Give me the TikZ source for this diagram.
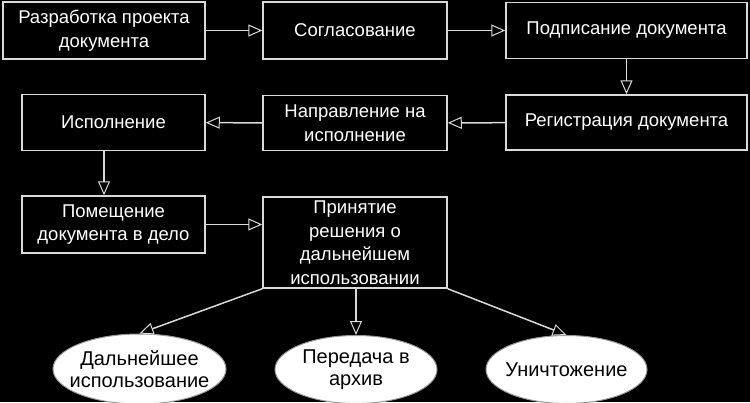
\documentclass[tikz,border=0pt]{standalone}
\usepackage{fontspec}
\setmainfont{Liberation Sans}
\usetikzlibrary{arrows.meta,shapes.geometric}

\begin{document}
\begin{tikzpicture}[x=1pt,y=-1pt,
  stage/.style={draw=black!15,line width=1.5pt,text=white,align=center,
    inner sep=0pt,font=\fontsize{18.5}{23.5}\selectfont},
  outcome/.style={ellipse,draw=black!40,fill=white,line width=1pt,text=black,
    align=center,inner xsep=-9pt,inner ysep=0pt,font=\fontsize{20}{21.5}\selectfont},
  flow/.style={draw=black!15,line width=1.5pt,
    -{Triangle[open,length=14pt,width=12pt,line width=1pt]}}]
\fill[black] (0,0) rectangle (750,402);
\useasboundingbox (0,0) rectangle (750,402);
\node[stage,minimum width=202,minimum height=57] (proj) at (104,30.5) {Разработка проекта\\документа};
\node[stage,minimum width=184,minimum height=57] (agree) at (355,30.5) {Согласование};
\draw[flow] (proj) -- (agree);
\node[stage,minimum width=241,minimum height=56] (sign) at (626.5,30.5) {Подписание документа};
\draw[flow] (agree) -- (sign);
\node[stage,minimum width=241,minimum height=55] (reg) at (626.5,122.5) {Регистрация документа};
\draw[flow] (sign) -- (reg);
\node[stage,minimum width=184,minimum height=55] (send) at (355,123) {Направление на\\исполнение};
\draw[flow] (reg) -- (send);
\node[stage,minimum width=183,minimum height=56] (exec) at (113.5,122.5) {Исполнение};
\draw[flow] (send) -- (exec);
\node[stage,minimum width=183,minimum height=57] (file) at (113.5,224.5) {Помещение\\документа в дело};
\draw[flow] ([xshift=-9.5pt]exec.south) -- ([xshift=-9.5pt]file.north);
\node[stage,minimum width=184,minimum height=91] (decide) at (355,242.5) {Принятие\\решения о\\дальнейшем\\использовании};
\draw[flow] (file.east) -- (file.east -| decide.west);
\node[outcome,minimum width=173,minimum height=70] (use) at (139.5,369) {Дальнейшее\\использование};
\node[outcome,minimum width=162,minimum height=68] (arch) at (356,369.5) {Передача в\\архив};
\node[outcome,minimum width=161,minimum height=68] (kill) at (566.5,369.5) {Уничтожение};
\draw[flow] (decide.south west) -- (use.north);
\draw[flow] (decide.south -| arch.north) -- (arch.north);
\draw[flow] (decide.south east) -- (kill.north);
\end{tikzpicture}
\end{document}
